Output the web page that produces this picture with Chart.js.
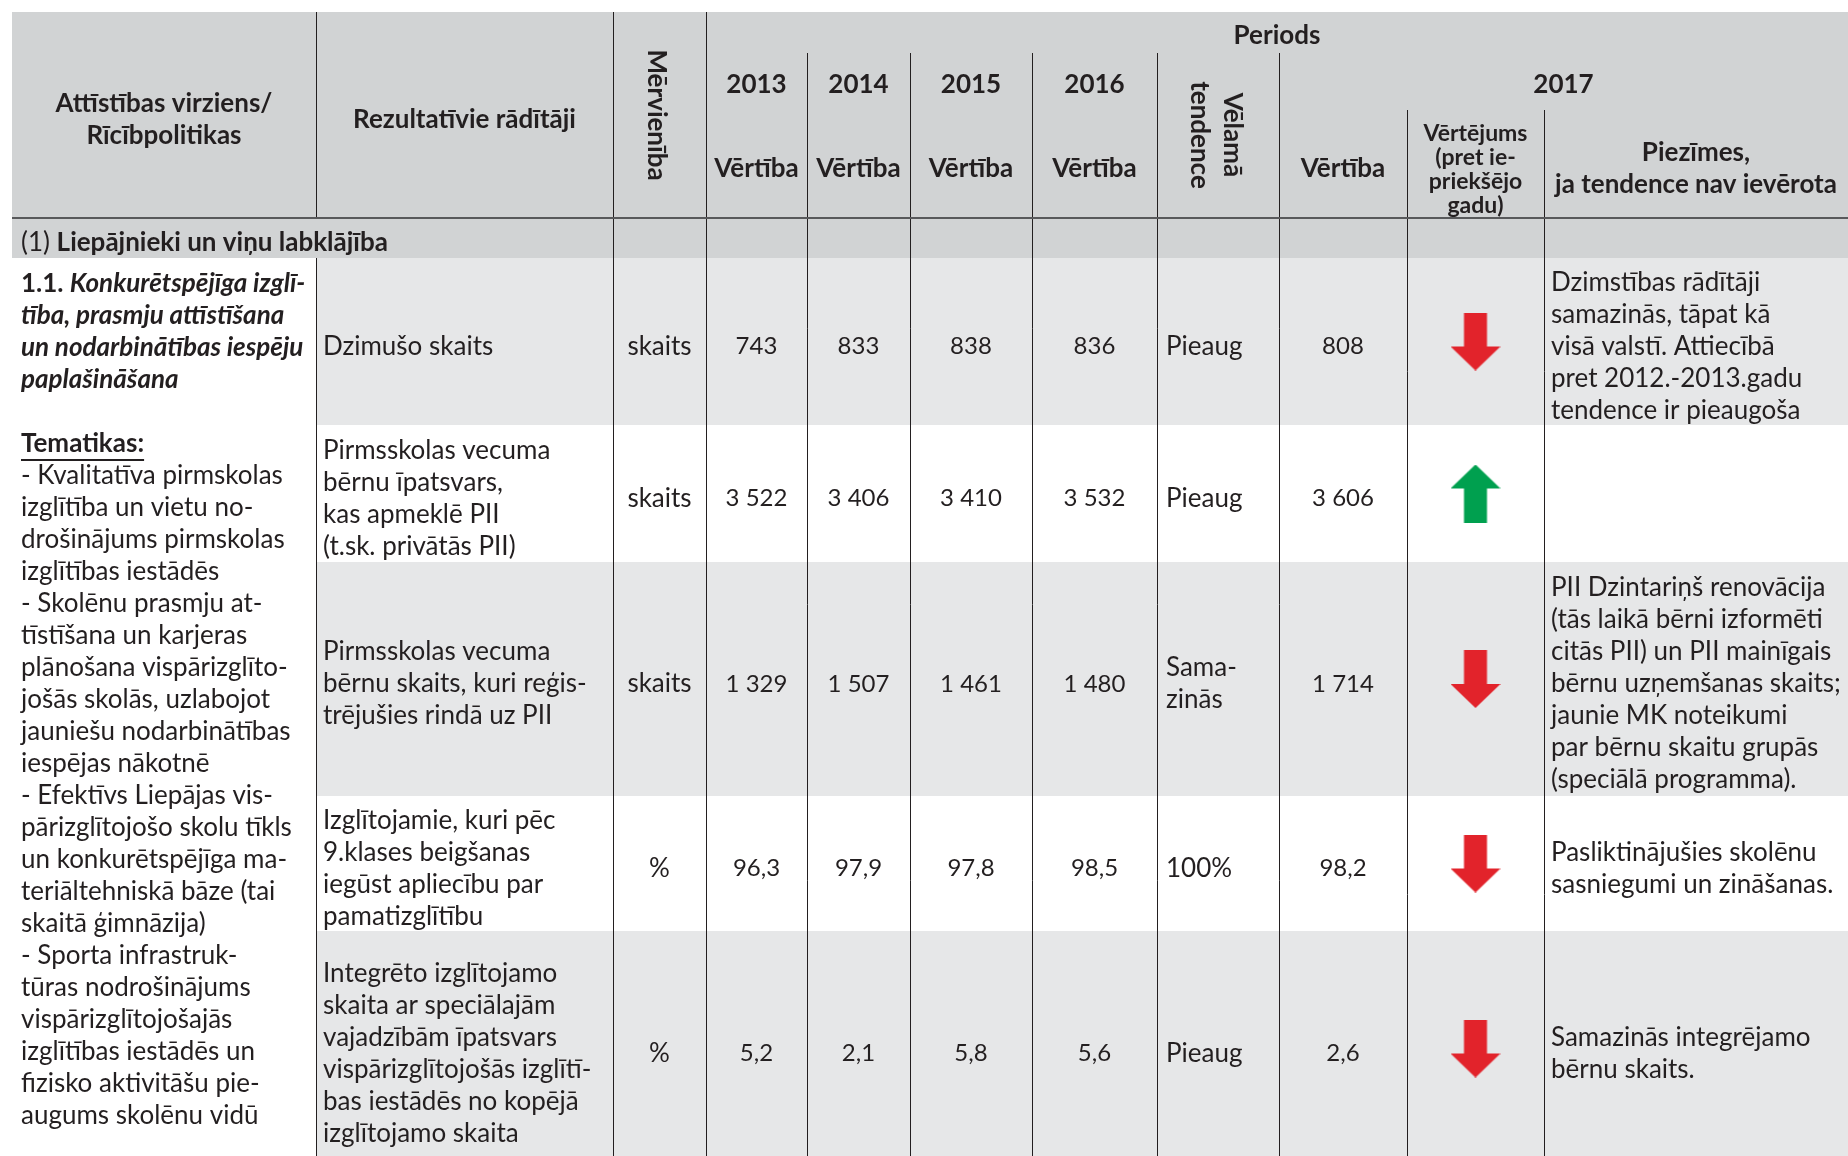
<!DOCTYPE html>
<html>
<head>
<meta charset="utf-8">
<script src="https://cdn.jsdelivr.net/npm/chart.js@4.4.0/dist/chart.umd.min.js"></script>
<style>
  html, body { margin: 0; padding: 0; background: #fff; }
  canvas { display: block; }
</style>
</head>
<body>
<canvas id="table" width="1848" height="1156"></canvas>
<script>
// -------------------------------
// Data
// -------------------------------
const years = ["2013", "2014", "2015", "2016"];
const indicators = [
  "Dzimušo skaits",
  "Pirmsskolas vecuma\nbērnu īpatsvars,\nkas apmeklē PII\n(t.sk. privātās PII)",
  "Pirmsskolas vecuma\nbērnu skaits, kuri reģis-\ntrējušies rindā uz PII",
  "Izglītojamie, kuri pēc\n9.klases beigšanas\niegūst apliecību par\npamatizglītību",
  "Integrēto izglītojamo\nskaita ar speciālajām\nvajadzībām īpatsvars\nvispārizglītojošās izglītī-\nbas iestādēs no kopējā\nizglītojamo skaita",
];
const units = ["skaits", "skaits", "skaits", "%", "%"];
const values2013 = [743, 3522, 1329, 96.3, 5.2];
const values2014 = [833, 3406, 1507, 97.9, 2.1];
const values2015 = [838, 3410, 1461, 97.8, 5.8];
const values2016 = [836, 3532, 1480, 98.5, 5.6];
const desiredTrend = ["Pieaug", "Pieaug", "Sama-\nzinās", "100%", "Pieaug"];
const values2017 = [808, 3606, 1714, 98.2, 2.6];
const assessment = [-1, 1, -1, -1, -1]; // -1 worse, 1 better than previous year
const notes = [
  "Dzimstības rādītāji\nsamazinās, tāpat kā\nvisā valstī. Attiecībā\npret 2012.-2013.gadu\ntendence ir pieaugoša",
  "",
  "PII Dzintariņš renovācija\n(tās laikā bērni izformēti\ncitās PII) un PII mainīgais\nbērnu uzņemšanas skaits;\njaunie MK noteikumi\npar bērnu skaitu grupās\n(speciālā programma).",
  "Pasliktinājušies skolēnu\nsasniegumi un zināšanas.",
  "Samazinās integrējamo\nbērnu skaits.",
];
const sectionTitle = "Liepājnieki un viņu labklājība";
const policyTitle = ["Konkurētspējīga izglī-", "tība, prasmju attīstīšana", "un nodarbinātības iespēju", "paplašināšana"];
const themes = [
  "- Kvalitatīva pirmskolas", "izglītība un vietu no-", "drošinājums pirmskolas", "izglītības iestādēs",
  "- Skolēnu prasmju at-", "tīstīšana un karjeras", "plānošana vispārizglīto-", "jošās skolās, uzlabojot",
  "jauniešu nodarbinātības", "iespējas nākotnē",
  "- Efektīvs Liepājas vis-", "pārizglītojošo skolu tīkls", "un konkurētspējīga ma-", "teriāltehniskā bāze (tai",
  "skaitā ģimnāzija)",
  "- Sporta infrastruk-", "tūras nodrošinājums", "vispārizglītojošajās", "izglītības iestādēs un",
  "fizisko aktivitāšu pie-", "augums skolēnu vidū",
];

// -------------------------------
// Layout
// -------------------------------
const W = 1848, H = 1156;
const colEdges = [12, 316, 613, 706, 807, 910, 1032, 1157, 1279, 1407, 1544, 1848];
const rowEdges = [258, 425, 562, 796, 931, 1166];
const FAMILY = 'Lato, "Open Sans", sans-serif';
const BODY = "26px " + FAMILY;
const NUM = "24px " + FAMILY;
const HEAD = "bold 26px " + FAMILY;
const INK = "#231f20";
const LINE_H = 32;
const DY = 2; // nudge for text baseline

const colCenter = (c) => (colEdges[c] + colEdges[c + 1]) / 2;
const rowCenter = (r) => (rowEdges[r] + rowEdges[r + 1]) / 2;

function fmt(v, unit) {
  if (unit === "%") return v.toFixed(1).replace(".", ",");
  return String(v).replace(/\B(?=(\d{3})+(?!\d))/g, " ");
}

// -------------------------------
// Arrow markers
// -------------------------------
function makeArrow(up, color) {
  const c = document.createElement("canvas");
  c.width = 50;
  c.height = 58;
  const g = c.getContext("2d");
  g.fillStyle = color;
  g.beginPath();
  if (up) {
    g.moveTo(25, 0); g.lineTo(50, 24); g.lineTo(36.5, 24); g.lineTo(36.5, 58);
    g.lineTo(13.5, 58); g.lineTo(13.5, 24); g.lineTo(0, 24);
  } else {
    g.moveTo(13.5, 0); g.lineTo(36.5, 0); g.lineTo(36.5, 34); g.lineTo(50, 34);
    g.lineTo(25, 58); g.lineTo(0, 34); g.lineTo(13.5, 34);
  }
  g.closePath();
  g.fill();
  return c;
}
const arrowUp = makeArrow(true, "#00a04f");
const arrowDown = makeArrow(false, "#e2232b");

// -------------------------------
// Table drawing plugin
// -------------------------------
function drawLines(ctx, text, x, yMid, align, font) {
  const lines = text.split("\n");
  ctx.font = font;
  ctx.textAlign = align;
  ctx.textBaseline = "middle";
  const top = yMid + DY - ((lines.length - 1) * LINE_H) / 2;
  lines.forEach((l, i) => ctx.fillText(l, x, top + i * LINE_H));
}

function drawRich(ctx, parts, x, y) {
  ctx.textAlign = "left";
  ctx.textBaseline = "middle";
  parts.forEach((p) => {
    ctx.font = p.font;
    ctx.fillText(p.text, x, y + DY);
    x += ctx.measureText(p.text).width;
  });
}

function drawRotated(ctx, lines, cx, cy, gap) {
  ctx.save();
  ctx.translate(cx, cy);
  ctx.rotate(Math.PI / 2);
  ctx.font = HEAD;
  ctx.textAlign = "center";
  ctx.textBaseline = "middle";
  lines.forEach((l, i) => ctx.fillText(l, 0, (i - (lines.length - 1) / 2) * gap));
  ctx.restore();
}

const tablePlugin = {
  id: "tablePlugin",
  beforeDatasetsDraw(chart) {
    const ctx = chart.ctx;
    const sx = (v) => chart.scales.x.getPixelForValue(v);
    const sy = (v) => chart.scales.y.getPixelForValue(v);
    ctx.save();

    // backgrounds
    ctx.fillStyle = "#d1d3d4";
    ctx.fillRect(sx(12), sy(12), sx(W) - sx(12), sy(258) - sy(12));
    rowEdges.slice(0, -1).forEach((r, i) => {
      ctx.fillStyle = i % 2 === 0 ? "#e6e7e8" : "#ffffff";
      ctx.fillRect(sx(colEdges[1]), sy(r), sx(W) - sx(colEdges[1]), sy(rowEdges[i + 1]) - sy(r));
    });

    // grid lines
    ctx.strokeStyle = INK;
    ctx.lineWidth = 1;
    const vline = (x, y0, y1) => {
      ctx.beginPath();
      ctx.moveTo(Math.round(sx(x)) + 0.5, sy(y0));
      ctx.lineTo(Math.round(sx(x)) + 0.5, sy(y1));
      ctx.stroke();
    };
    vline(colEdges[1], 12, 218);
    vline(colEdges[1], 258, H);
    vline(colEdges[2], 12, H);
    vline(colEdges[3], 12, H);
    for (let c = 4; c <= 8; c++) vline(colEdges[c], 53, H);
    vline(colEdges[9], 110, H);
    vline(colEdges[10], 110, H);
    ctx.strokeStyle = "#58595b";
    ctx.lineWidth = 2;
    ctx.beginPath();
    ctx.moveTo(sx(12), sy(218));
    ctx.lineTo(sx(W), sy(218));
    ctx.stroke();

    // header
    ctx.fillStyle = INK;
    drawLines(ctx, "Attīstības virziens/\nRīcībpolitikas", sx(colCenter(0)), sy(118), "center", HEAD);
    drawLines(ctx, "Rezultatīvie rādītāji", sx(colCenter(1)), sy(118), "center", HEAD);
    drawRotated(ctx, ["Mērvienība"], sx(colCenter(2) - 3), sy(115), 0);
    drawLines(ctx, "Periods", sx((colEdges[3] + W) / 2), sy(34), "center", HEAD);
    years.forEach((yr, i) => {
      drawLines(ctx, yr, sx(colCenter(3 + i)), sy(83), "center", HEAD);
      drawLines(ctx, "Vērtība", sx(colCenter(3 + i)), sy(167), "center", HEAD);
    });
    drawRotated(ctx, ["Vēlamā", "tendence"], sx(colCenter(7) - 2), sy(135), 33);
    drawLines(ctx, "2017", sx((colEdges[8] + W) / 2), sy(83), "center", HEAD);
    drawLines(ctx, "Vērtība", sx(colCenter(8)), sy(167), "center", HEAD);
    ctx.font = "bold 23px " + FAMILY;
    ctx.textAlign = "center";
    ["Vērtējums", "(pret ie-", "priekšējo", "gadu)"].forEach((l, i) =>
      ctx.fillText(l, sx(colCenter(9)), sy(132 + DY + i * 24))
    );
    drawLines(ctx, "Piezīmes,\nja tendence nav ievērota", sx(colCenter(10)), sy(167), "center", HEAD);

    // section row
    drawRich(ctx, [
      { text: "(1) ", font: BODY },
      { text: sectionTitle, font: HEAD },
    ], sx(21), sy(241));

    // left column
    const lx = sx(21);
    drawRich(ctx, [
      { text: "1.1. ", font: HEAD },
      { text: policyTitle[0], font: "italic " + HEAD },
    ], lx, sy(282));
    policyTitle.slice(1).forEach((l, i) =>
      drawRich(ctx, [{ text: l, font: "italic " + HEAD }], lx, sy(314 + i * LINE_H))
    );
    drawRich(ctx, [{ text: "Tematikas:", font: HEAD }], lx, sy(442));
    ctx.font = HEAD;
    const tw = ctx.measureText("Tematikas:").width;
    ctx.fillRect(lx, sy(457 + DY), tw, 2);
    themes.forEach((l, i) => drawRich(ctx, [{ text: l, font: BODY }], lx, sy(474 + i * LINE_H)));

    // body rows
    const valueCols = [values2013, values2014, values2015, values2016];
    indicators.forEach((ind, r) => {
      const yc = sy(rowCenter(r) + 3);
      drawLines(ctx, ind, sx(colEdges[1] + 7), yc, "left", BODY);
      drawLines(ctx, units[r], sx(colCenter(2)), yc, "center", BODY);
      valueCols.forEach((vals, i) =>
        drawLines(ctx, fmt(vals[r], units[r]), sx(colCenter(3 + i)), yc, "center", NUM)
      );
      drawLines(ctx, desiredTrend[r], sx(colEdges[7] + 9), yc, "left", BODY);
      drawLines(ctx, fmt(values2017[r], units[r]), sx(colCenter(8)), yc, "center", NUM);
      if (notes[r]) drawLines(ctx, notes[r], sx(colEdges[10] + 7), yc, "left", BODY);
    });

    ctx.restore();
  },
};

// -------------------------------
// Chart
// -------------------------------
const arrowPoints = assessment.map((a, r) => ({ x: colCenter(9), y: rowCenter(r), a }));

new Chart(document.getElementById("table"), {
  type: "scatter",
  data: {
    datasets: [
      {
        data: arrowPoints,
        pointStyle: (c) => (c.raw && c.raw.a > 0 ? arrowUp : arrowDown),
        pointRadius: 25,
        pointHoverRadius: 25,
      },
    ],
  },
  options: {
    responsive: false,
    animation: false,
    events: [],
    layout: { padding: 0, autoPadding: false },
    plugins: { legend: { display: false }, tooltip: { enabled: false } },
    scales: {
      x: { type: "linear", min: 0, max: W, display: false },
      y: { type: "linear", min: 0, max: H, reverse: true, display: false },
    },
  },
  plugins: [tablePlugin],
});
</script>
</body>
</html>
